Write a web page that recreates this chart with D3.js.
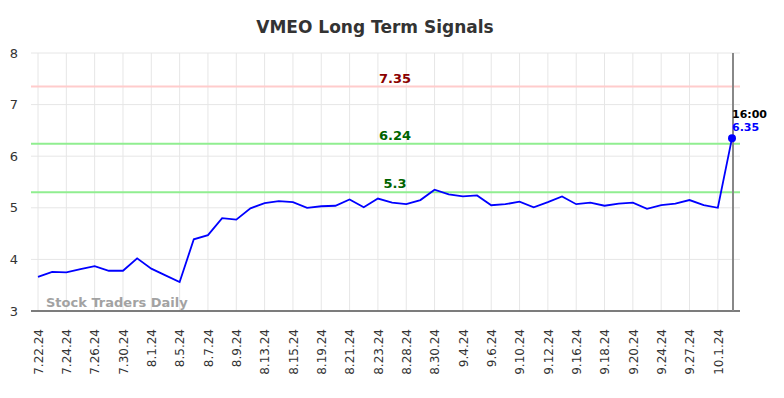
<!DOCTYPE html>
<html>
<head>
<meta charset="utf-8">
<script src="https://cdn.jsdelivr.net/npm/d3@7"></script>
<style>
  body { margin: 0; background: #fff; }
  text { font-family: "DejaVu Sans", sans-serif; }
</style>
</head>
<body>
<svg id="chart" width="784" height="398"></svg>
<script>
// trading days shown on the chart (labels every other day)
var dates = ["7.22.24","7.23.24","7.24.24","7.25.24","7.26.24","7.29.24","7.30.24","7.31.24",
  "8.1.24","8.2.24","8.5.24","8.6.24","8.7.24","8.8.24","8.9.24","8.12.24","8.13.24","8.14.24",
  "8.15.24","8.16.24","8.19.24","8.20.24","8.21.24","8.22.24","8.23.24","8.27.24","8.28.24","8.29.24",
  "8.30.24","9.3.24","9.4.24","9.5.24","9.6.24","9.9.24","9.10.24","9.11.24","9.12.24","9.13.24",
  "9.16.24","9.17.24","9.18.24","9.19.24","9.20.24","9.23.24","9.24.24","9.26.24","9.27.24","9.30.24",
  "10.1.24","10.2.24"];
var prices = [3.66,3.76,3.75,3.81,3.87,3.78,3.78,4.02,
  3.82,3.69,3.56,4.39,4.47,4.80,4.77,4.99,5.09,5.13,
  5.11,5.00,5.03,5.04,5.16,5.01,5.18,5.10,5.07,5.15,
  5.35,5.26,5.22,5.24,5.05,5.07,5.12,5.01,5.11,5.22,
  5.07,5.10,5.04,5.08,5.10,4.98,5.05,5.08,5.15,5.05,
  5.00,6.35];
var levels = [
  {value: 7.35, line: "#ffcccc", label: "#8b0000"},
  {value: 6.24, line: "#90ee90", label: "#006400"},
  {value: 5.3,  line: "#90ee90", label: "#006400"}
];
var yTicks = [3, 4, 5, 6, 7, 8];
var lastTime = "16:00";

var svg = d3.select("#chart");
var margin = {top: 53, right: 44, bottom: 87, left: 31},
    width = +svg.attr("width") - margin.left - margin.right,
    height = +svg.attr("height") - margin.top - margin.bottom;

svg.append("text")
    .attr("x", 375).attr("y", 33)
    .attr("text-anchor", "middle")
    .style("font-size", "17px").style("font-weight", "bold").style("fill", "#333")
    .text("VMEO Long Term Signals");

var g = svg.append("g")
    .attr("transform", "translate(" + margin.left + "," + margin.top + ")");

var x = d3.scalePoint().domain(dates).range([7, width - 8]);
var y = d3.scaleLinear().domain([3, 8]).range([height, 0]);

var shown = dates.filter(function(d, i) { return i % 2 == 0; });

// grid
g.append("g").selectAll("line").data(shown).enter().append("line")
    .attr("x1", function(d) { return x(d); }).attr("x2", function(d) { return x(d); })
    .attr("y1", 0).attr("y2", height)
    .style("stroke", "#e6e6e6").style("stroke-width", 1);
g.append("g").selectAll("line").data(yTicks).enter().append("line")
    .attr("x1", 0).attr("x2", width)
    .attr("y1", function(d) { return y(d); }).attr("y2", function(d) { return y(d); })
    .style("stroke", "#e6e6e6").style("stroke-width", 1);

// y axis labels
var yAxis = g.append("g")
    .call(d3.axisLeft(y).tickValues(yTicks).tickFormat(d3.format("d")).tickSize(0).tickPadding(13));
yAxis.select(".domain").remove();
yAxis.selectAll("text").style("font-size", "13px").style("fill", "#333");

// x axis
var xAxis = g.append("g")
    .attr("transform", "translate(0," + height + ")")
    .call(d3.axisBottom(x).tickValues(shown).tickSize(0));
xAxis.select(".domain").remove();
xAxis.selectAll("text")
    .style("font-size", "12px").style("fill", "#333")
    .attr("text-anchor", "end")
    .attr("transform", "rotate(-90)")
    .attr("x", -18).attr("y", 0).attr("dy", "0.35em");

g.append("line")
    .attr("x1", 0).attr("x2", width).attr("y1", height).attr("y2", height)
    .style("stroke", "#555").style("stroke-width", 1.5);

// watermark
g.append("text")
    .attr("x", 15).attr("y", height - 4)
    .style("font-size", "13px").style("font-weight", "bold").style("fill", "#999").style("opacity", 0.9)
    .text("Stock Traders Daily");

// signal levels
levels.forEach(function(l) {
    g.append("line")
        .attr("x1", 0).attr("x2", width)
        .attr("y1", y(l.value)).attr("y2", y(l.value))
        .style("stroke", l.line).style("stroke-width", 2);
    g.append("text")
        .attr("x", 364).attr("y", y(l.value) - 4)
        .attr("text-anchor", "middle")
        .style("font-size", "13px").style("font-weight", "bold").style("fill", l.label)
        .text(l.value);
});

// current marker
var last = dates[dates.length - 1];
g.append("line")
    .attr("x1", x(last) + 1).attr("x2", x(last) + 1).attr("y1", 0).attr("y2", height)
    .style("stroke", "#888").style("stroke-width", 2);

g.append("path")
    .datum(prices)
    .attr("d", d3.line()
        .x(function(d, i) { return x(dates[i]); })
        .y(function(d) { return y(d); }))
    .style("fill", "none").style("stroke", "#0000ff").style("stroke-width", 1.8);

g.append("circle")
    .attr("cx", x(last)).attr("cy", y(prices[prices.length - 1])).attr("r", 4)
    .style("fill", "#0000ff");

g.append("text")
    .attr("x", x(last)).attr("y", y(prices[prices.length - 1]) - 20)
    .style("font-size", "11px").style("font-weight", "bold").style("fill", "#000")
    .text(lastTime);
g.append("text")
    .attr("x", x(last)).attr("y", y(prices[prices.length - 1]) - 7)
    .style("font-size", "11px").style("font-weight", "bold").style("fill", "#0000ff")
    .text(prices[prices.length - 1]);
</script>
</body>
</html>
